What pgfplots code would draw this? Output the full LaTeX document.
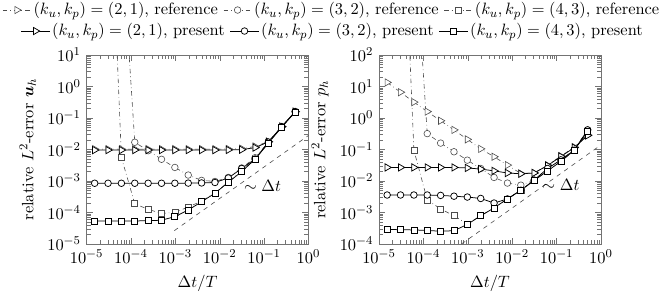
\documentclass[border=0pt,11pt]{standalone}
\usepackage{amsmath}
\usepackage{pgfplots}
\pgfplotsset{compat=1.18}
\definecolor{refc}{gray}{0.3}
\pgfplotsset{
  refT/.style={refc, dash dot, line width=0.4pt, mark=triangle*, mark size=2.8pt, mark options={solid, fill=white, draw=refc, rotate=-90}},
  refC/.style={refc, dash dot, line width=0.4pt, mark=*, mark size=2.2pt, mark options={solid, fill=white, draw=refc}},
  refS/.style={refc, dash dot, line width=0.4pt, mark=square*, mark size=2pt, mark options={solid, fill=white, draw=refc}},
  preT/.style={black, solid, line width=0.5pt, mark=triangle*, mark size=2.8pt, mark options={solid, fill=white, draw=black, rotate=-90}},
  preC/.style={black, solid, line width=0.5pt, mark=*, mark size=2.2pt, mark options={solid, fill=white, draw=black}},
  preS/.style={black, solid, line width=0.5pt, mark=square*, mark size=2pt, mark options={solid, fill=white, draw=black}},
}
\begin{document}
\begin{tikzpicture}
% ---------------- left: velocity
\begin{axis}[xmode=log, ymode=log, scale only axis, width=148pt, height=126pt,
  xmin=1e-5, xmax=1, xtick={1e-5,1e-4,1e-3,1e-2,1e-1,1},
  axis line style={black!55}, tick style={black!55},
  xlabel={$\Delta t/T$},
  name=L, ymin=1e-5, ymax=10,
  ytick={1e-5,1e-4,1e-3,1e-2,1e-1,1,10},
  ylabel={relative $L^2$-error $\boldsymbol{u}_h$},
  legend columns=3, legend cell align=left,
  legend image code/.code={\draw[mark repeat=2,mark phase=2,#1] plot coordinates {(0cm,0cm) (0.33cm,0cm) (0.66cm,0cm)};},
  legend style={draw=none, fill=none, anchor=center, at={(1.106,1.238)},
      inner xsep=0pt, inner ysep=0pt, nodes={inner sep=1.5pt},
      /tikz/every even column/.append style={column sep=2pt}}]
% reference (2,1)
\addplot[refT, forget plot] coordinates {
(1.5259e-5,0.0103) (3.0518e-5,0.0103) (6.1035e-5,0.0103) (1.2207e-4,0.0103)
(2.4414e-4,0.0103) (4.8828e-4,0.0103) (9.7656e-4,0.0103) (1.9531e-3,0.0103)
(3.9063e-3,0.0103) (7.8125e-3,0.0103) (0.015625,0.0104) (0.03125,0.0107)
(0.0625,0.0125) (0.125,0.018) (0.25,0.054) (0.5,0.16)};
% reference (3,2)
\addplot[refC, forget plot] coordinates {
(6.1035e-5,60000) (1.2207e-4,0.017)
(2.4414e-4,0.0092) (4.8828e-4,0.0049) (9.7656e-4,0.0027) (1.9531e-3,0.00155)
(3.9063e-3,0.00105) (7.8125e-3,0.00097) (0.015625,0.0013) (0.03125,0.0026)
(0.0625,0.0055) (0.125,0.0172) (0.25,0.054) (0.5,0.162)};
% reference (4,3)
\addplot[refS, forget plot] coordinates {
(3.0518e-5,100000000) (6.1035e-5,0.0056) (1.2207e-4,1.9e-4)
(2.4414e-4,1.26e-4) (4.8828e-4,9.4e-5) (9.7656e-4,1.0e-4) (1.9531e-3,1.5e-4)
(3.9063e-3,2.3e-4) (7.8125e-3,4.2e-4) (0.015625,9.3e-4) (0.03125,2.1e-3)
(0.0625,5.0e-3) (0.125,0.0165) (0.25,0.052) (0.5,0.155)};
% present (2,1)
\addplot[preT, forget plot] coordinates {
(1.5259e-5,0.0096) (3.0518e-5,0.0096) (6.1035e-5,0.0096) (1.2207e-4,0.0096)
(2.4414e-4,0.0096) (4.8828e-4,0.0096) (9.7656e-4,0.0096) (1.9531e-3,0.0096)
(3.9063e-3,0.0096) (7.8125e-3,0.0096) (0.015625,0.0097) (0.03125,0.0099)
(0.0625,0.0115) (0.125,0.0175) (0.25,0.053) (0.5,0.158)};
% present (3,2)
\addplot[preC, forget plot] coordinates {
(1.5259e-5,8.5e-4) (3.0518e-5,8.5e-4) (6.1035e-5,8.5e-4) (1.2207e-4,8.5e-4)
(2.4414e-4,8.5e-4) (4.8828e-4,8.5e-4) (9.7656e-4,8.5e-4) (1.9531e-3,8.6e-4)
(3.9063e-3,8.7e-4) (7.8125e-3,9.0e-4) (0.015625,1.25e-3) (0.03125,2.5e-3)
(0.0625,5.0e-3) (0.125,0.0172) (0.25,0.053) (0.5,0.16)};
% present (4,3)
\addplot[preS, forget plot] coordinates {
(1.5259e-5,5.4e-5) (3.0518e-5,5.4e-5) (6.1035e-5,5.4e-5) (1.2207e-4,5.4e-5)
(2.4414e-4,5.5e-5) (4.8828e-4,5.7e-5) (9.7656e-4,7.4e-5) (1.9531e-3,1.2e-4)
(3.9063e-3,2.2e-4) (7.8125e-3,4.1e-4) (0.015625,9.1e-4) (0.03125,2.0e-3)
(0.0625,4.9e-3) (0.125,0.016) (0.25,0.052) (0.5,0.155)};
% slope
\addplot[black!70, dashed, line width=0.4pt, forget plot] coordinates {(9.5e-4,2.66e-5) (1,0.028)};
\addlegendimage{refT}\addlegendentry{$(k_u,k_p)=(2,1)$, reference}
\addlegendimage{refC}\addlegendentry{$(k_u,k_p)=(3,2)$, reference}
\addlegendimage{refS}\addlegendentry{$(k_u,k_p)=(4,3)$, reference}
\end{axis}
% ---------------- right: pressure
\begin{axis}[xmode=log, ymode=log, scale only axis, width=148pt, height=126pt,
  xmin=1e-5, xmax=1, xtick={1e-5,1e-4,1e-3,1e-2,1e-1,1},
  axis line style={black!55}, tick style={black!55},
  xlabel={$\Delta t/T$},
  name=R, at={(L.south east)}, xshift=47pt, anchor=south west,
  ymin=1e-4, ymax=100,
  ytick={1e-4,1e-3,1e-2,1e-1,1,10,100},
  ylabel={relative $L^2$-error $p_h$},
  legend columns=3, legend cell align=left,
  legend image code/.code={\draw[mark repeat=2,mark phase=2,#1] plot coordinates {(0cm,0cm) (0.33cm,0cm) (0.66cm,0cm)};},
  legend style={draw=none, fill=none, anchor=center, at={(-0.207,1.127)},
      inner xsep=0pt, inner ysep=0pt, nodes={inner sep=1.5pt},
      /tikz/every even column/.append style={column sep=2pt}}]
% reference (2,1)
\addplot[refT, forget plot] coordinates {
(1.5259e-5,13.5) (3.0518e-5,6.6) (6.1035e-5,3.2) (1.2207e-4,1.6)
(2.4414e-4,0.82) (4.8828e-4,0.42) (9.7656e-4,0.21) (1.9531e-3,0.105)
(3.9063e-3,0.059) (7.8125e-3,0.032) (0.015625,0.0174) (0.03125,0.018)
(0.0625,0.032) (0.125,0.062) (0.25,0.12) (0.5,0.29)};
% reference (3,2)
\addplot[refC, forget plot] coordinates {
(6.1035e-5,1000000) (1.2207e-4,0.32)
(2.4414e-4,0.16) (4.8828e-4,0.085) (9.7656e-4,0.046) (1.9531e-3,0.025)
(3.9063e-3,0.013) (7.8125e-3,0.0086) (0.015625,0.0074) (0.03125,0.0105)
(0.0625,0.025) (0.125,0.047) (0.25,0.1) (0.5,0.42)};
% reference (4,3)
\addplot[refS, forget plot] coordinates {
(3.0518e-5,1000000000) (6.1035e-5,0.096) (1.2207e-4,2.5e-3)
(2.4414e-4,1.3e-3) (4.8828e-4,7.9e-4) (9.7656e-4,4.3e-4) (1.9531e-3,7.9e-4)
(3.9063e-3,1.4e-3) (7.8125e-3,2.7e-3) (0.015625,5.1e-3) (0.03125,0.0104)
(0.0625,0.021) (0.125,0.042) (0.25,0.095) (0.5,0.38)};
% present (2,1)
\addplot[preT, forget plot] coordinates {
(1.5259e-5,0.027) (3.0518e-5,0.027) (6.1035e-5,0.027) (1.2207e-4,0.027)
(2.4414e-4,0.027) (4.8828e-4,0.027) (9.7656e-4,0.026) (1.9531e-3,0.024)
(3.9063e-3,0.021) (7.8125e-3,0.018) (0.015625,0.017) (0.03125,0.018)
(0.0625,0.031) (0.125,0.06) (0.25,0.115) (0.5,0.28)};
% present (3,2)
\addplot[preC, forget plot] coordinates {
(1.5259e-5,3.6e-3) (3.0518e-5,3.6e-3) (6.1035e-5,3.6e-3) (1.2207e-4,3.6e-3)
(2.4414e-4,3.5e-3) (4.8828e-4,3.3e-3) (9.7656e-4,3.1e-3) (1.9531e-3,2.8e-3)
(3.9063e-3,2.0e-3) (7.8125e-3,2.7e-3) (0.015625,5.1e-3) (0.03125,0.0107)
(0.0625,0.025) (0.125,0.047) (0.25,0.095) (0.5,0.42)};
% present (4,3)
\addplot[preS, forget plot] coordinates {
(1.5259e-5,2.9e-4) (3.0518e-5,2.85e-4) (6.1035e-5,2.8e-4) (1.2207e-4,2.7e-4)
(2.4414e-4,2.55e-4) (4.8828e-4,2.65e-4) (9.7656e-4,4.2e-4) (1.9531e-3,7.9e-4)
(3.9063e-3,1.4e-3) (7.8125e-3,2.7e-3) (0.015625,5.1e-3) (0.03125,0.0104)
(0.0625,0.021) (0.125,0.042) (0.25,0.095) (0.5,0.38)};
% slope
\addplot[black!70, dashed, line width=0.4pt, forget plot] coordinates {(7.2e-4,1e-4) (1,0.14)};
\addlegendimage{preT}\addlegendentry{$(k_u,k_p)=(2,1)$, present}
\addlegendimage{preC}\addlegendentry{$(k_u,k_p)=(3,2)$, present}
\addlegendimage{preS}\addlegendentry{$(k_u,k_p)=(4,3)$, present}
\end{axis}
\node at ([xshift=117.3pt,yshift=38.7pt]L.south west) {$\sim \Delta t$};
\node at ([xshift=121.3pt,yshift=39.3pt]R.south west) {$\sim \Delta t$};
\pgfresetboundingbox
\path[use as bounding box] ([xshift=-57.7pt,yshift=-32pt]L.south west) rectangle ([xshift=385pt,yshift=162.7pt]L.south west);
\end{tikzpicture}
\end{document}
